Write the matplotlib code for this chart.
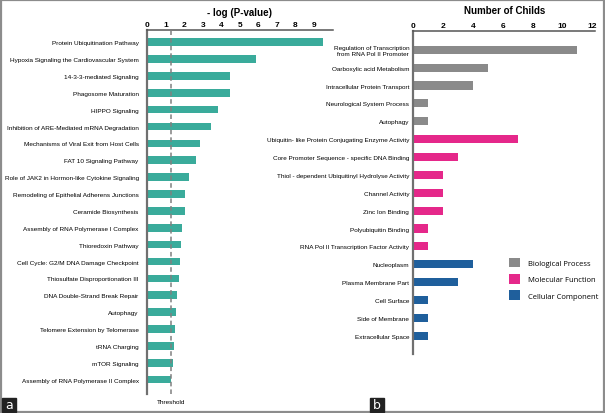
import matplotlib
matplotlib.use("Agg")
import matplotlib.pyplot as plt
from matplotlib.patches import Patch, Rectangle

# panel a: canonical pathways
pathways = ["Protein Ubiquitination Pathway",
            "Hypoxia Signaling the Cardiovascular System",
            "14-3-3-mediated Signaling",
            "Phagosome Maturation",
            "HIPPO Signaling",
            "Inhibition of ARE-Mediated mRNA Degradation",
            "Mechanisms of Viral Exit from Host Cells",
            "FAT 10 Signaling Pathway",
            "Role of JAK2 in Hormon-like Cytokine Signaling",
            "Remodeling of Epithelial Adherens Junctions",
            "Ceramide Biosynthesis",
            "Assembly of RNA Polymerase I Complex",
            "Thioredoxin Pathway",
            "Cell Cycle: G2/M DNA Damage Checkpoint",
            "Thiosulfate Disproportionation III",
            "DNA Double-Strand Break Repair",
            "Autophagy",
            "Telomere Extension by Telomerase",
            "tRNA Charging",
            "mTOR Signaling",
            "Assembly of RNA Polymerase II Complex"]
logp = [9.47, 5.85, 4.47, 4.45, 3.81, 3.43, 2.86, 2.64, 2.26, 2.05, 2.03,
        1.89, 1.82, 1.78, 1.72, 1.63, 1.58, 1.51, 1.44, 1.42, 1.30]
threshold = 1.3

# panel b: GO terms
terms = ["Regulation of Transcription\nfrom RNA Pol II Promoter",
         "Oarboxylic acid Metabolism",
         "Intracellular Protein Transport",
         "Neurological System Process",
         "Autophagy",
         "Ubiquitin- like Protein Conjugating Enzyme Activity",
         "Core Promoter Sequence - specific DNA Binding",
         "Thiol - dependent Ubiquitinyl Hydrolyse Activity",
         "Channel Activity",
         "Zinc Ion Binding",
         "Polyubiquitin Binding",
         "RNA Pol II Transcription Factor Activity",
         "Nucleoplasm",
         "Plasma Membrane Part",
         "Cell Surface",
         "Side of Membrane",
         "Extracellular Space"]
childs = [11, 5, 4, 1, 1, 7, 3, 2, 2, 2, 1, 1, 4, 3, 1, 1, 1]
groups = ["BP"] * 5 + ["MF"] * 7 + ["CC"] * 5
group_names = {"BP": "Biological Process", "MF": "Molecular Function",
               "CC": "Cellular Component"}
group_colors = {"BP": "#8a8a8a", "MF": "#e5288a", "CC": "#1f5f9c"}

plt.rcParams["font.family"] = ["Liberation Sans", "DejaVu Sans"]

fig = plt.figure(figsize=(6.05, 4.14), dpi=100)

# ---- panel a
ax1 = fig.add_axes([147/605, 19/414, 185.6/605, 364/414])
ypos = list(range(len(pathways)))
ax1.barh(ypos, logp, height=0.45, color="#3aab9b")
ax1.axvline(threshold, color="#808080", lw=1.1, ls=(0, (3, 2)), zorder=3)
ax1.set_xlim(0, 10)
ax1.set_ylim(len(pathways) - 1 + 0.85, -0.72)
ax1.set_xticks(range(10))
ax1.set_yticks(ypos)
ax1.set_yticklabels(pathways, fontsize=4.6)
ax1.xaxis.tick_top()
ax1.tick_params(axis="x", length=0, pad=1.5, labelsize=6)
ax1.tick_params(axis="y", length=0, pad=6)
for t in ax1.get_xticklabels():
    t.set_fontweight("bold")
ax1.set_title("- log (P-value)", fontsize=7, fontweight="bold", pad=11)
for s in ["right", "bottom"]:
    ax1.spines[s].set_visible(False)
ax1.spines["top"].set_color("#555555")
ax1.spines["top"].set_linewidth(1.1)
ax1.spines["left"].set_color("#707070")
ax1.spines["left"].set_linewidth(1.6)
fig.text(170.7/605, 1 - 403/414, "Threshold", fontsize=4.6, ha="center",
         va="center")

# ---- panel b
ax2 = fig.add_axes([413.3/605, 59/414, 182/605, 323/414])
ypos2 = list(range(len(terms)))
ax2.barh(ypos2, childs, height=0.45,
         color=[group_colors[g] for g in groups])
ax2.set_xlim(0, 12.2)
ax2.set_ylim(len(terms) - 1 + 1.02, -1.05)
ax2.set_xticks(range(0, 13, 2))
ax2.set_yticks(ypos2)
ax2.set_yticklabels(terms, fontsize=4.6)
ax2.xaxis.tick_top()
ax2.tick_params(axis="x", length=0, pad=1.5, labelsize=6)
ax2.tick_params(axis="y", length=0, pad=3)
for t in ax2.get_xticklabels():
    t.set_fontweight("bold")
ax2.set_title("Number of Childs", fontsize=7, fontweight="bold", pad=13)
for s in ["right", "bottom"]:
    ax2.spines[s].set_visible(False)
ax2.spines["top"].set_color("#555555")
ax2.spines["top"].set_linewidth(1.1)
ax2.spines["left"].set_color("#707070")
ax2.spines["left"].set_linewidth(1.6)

handles = [Patch(facecolor=group_colors[k], edgecolor="none") for k in group_names]
fig.legend(handles, list(group_names.values()), loc="upper left",
           bbox_to_anchor=(509/605, 1 - 259/414), frameon=False,
           prop={"family": ["Open Sans", "DejaVu Sans"], "size": 5.5},
           handlelength=1.5, handleheight=1.5, handletextpad=1.0,
           labelspacing=0.9, borderpad=0, borderaxespad=0)

# frame and panel tags
fig.patches.append(Rectangle((0.002, 0.003), 0.996, 0.994, transform=fig.transFigure,
                             fill=False, edgecolor="#8c8c8c", lw=1.6))
for x0, tag in [(2, "a"), (370, "b")]:
    fig.patches.append(Rectangle((x0/605, 1/414), 14/605, 14/414,
                                 transform=fig.transFigure, color="#222222"))
    fig.text((x0 + 7)/605, 8/414, tag, color="white", fontsize=9,
             ha="center", va="center", family="DejaVu Sans")

fig.savefig("out.png", dpi=100)
